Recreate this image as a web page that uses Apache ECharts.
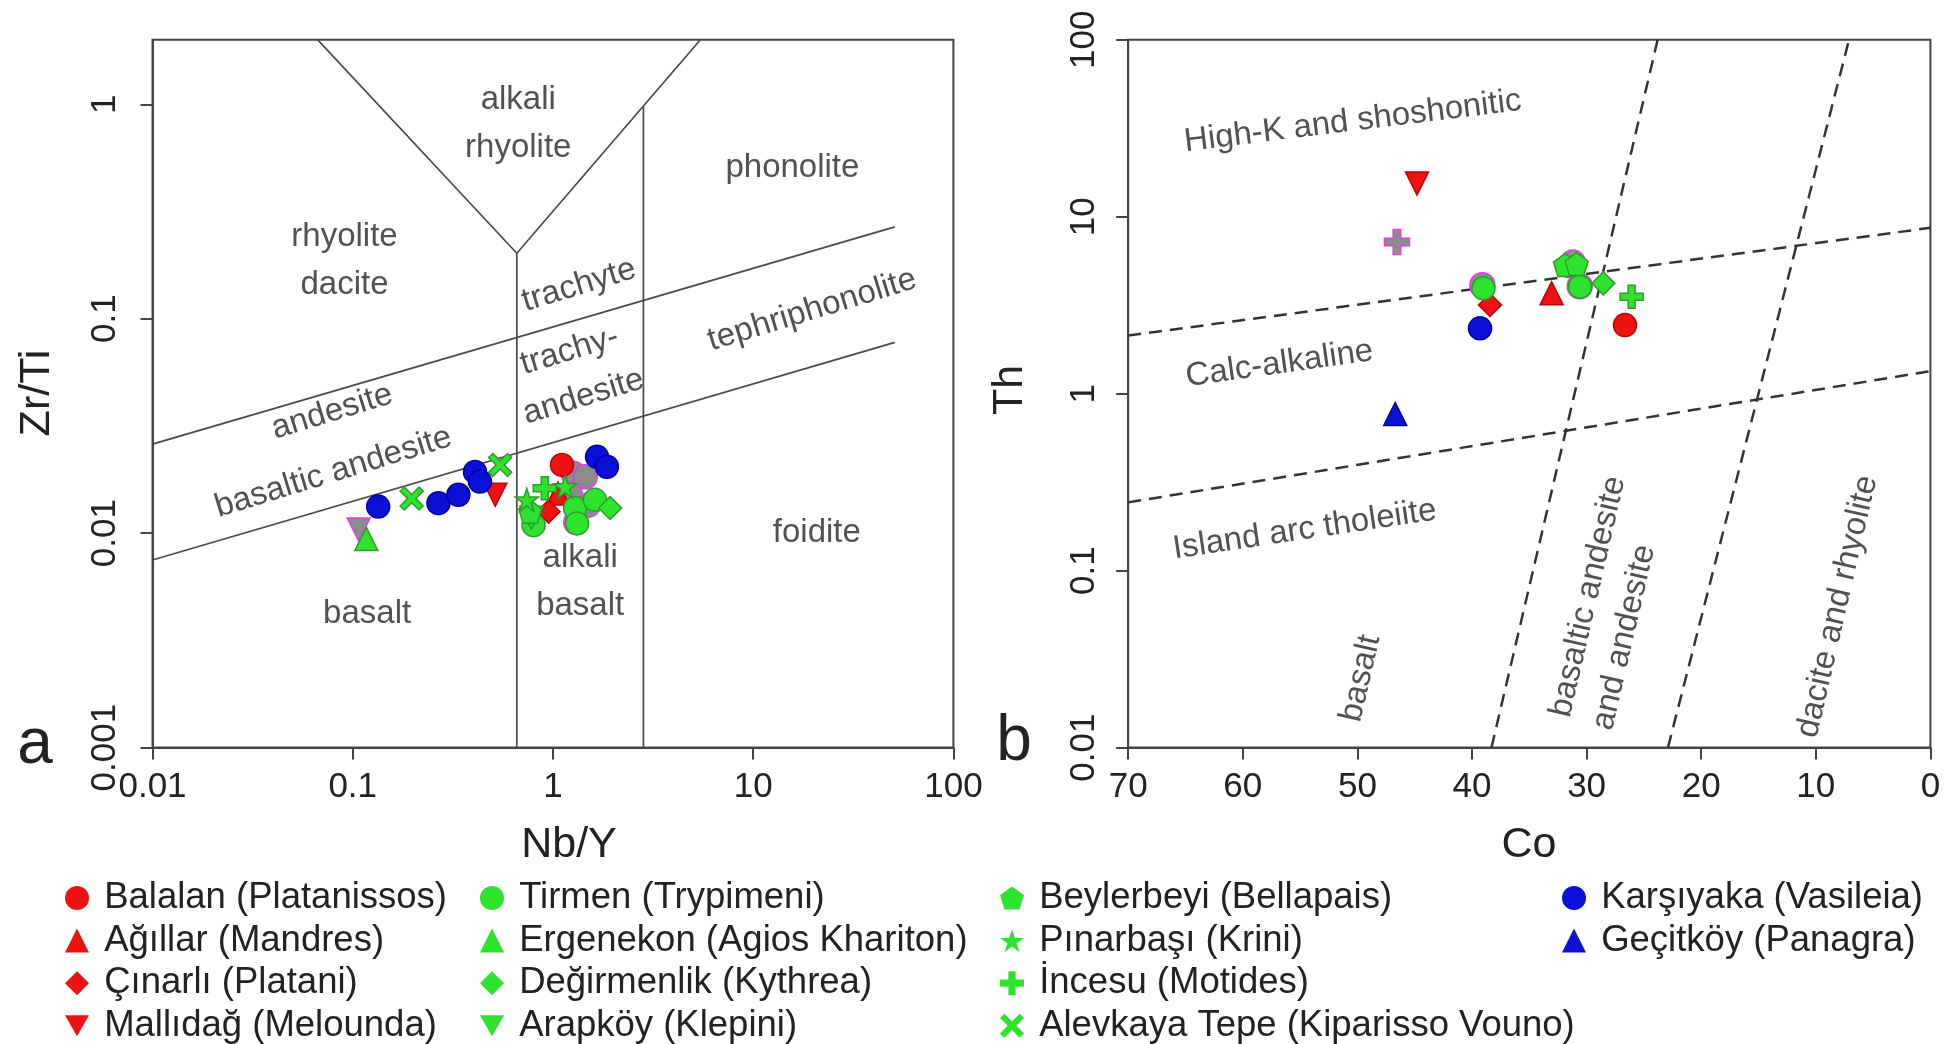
<!DOCTYPE html>
<html><head><meta charset="utf-8">
<script src="https://cdn.jsdelivr.net/npm/echarts@6/dist/echarts.min.js"></script>
<style>html,body{margin:0;padding:0;background:#fff}#c{width:1944px;height:1044px}</style>
</head><body><div id="c"></div>
<script>
// ---------- tick labels ----------
const nbyTicks = [0.01, 0.1, 1, 10, 100];
const zrtiTicks = [0.001, 0.01, 0.1, 1];
const coTicks = [70, 60, 50, 40, 30, 20, 10, 0];
const thTicks = [0.01, 0.1, 1, 10, 100];

// ---------- plot a data: [Nb/Y, Zr/Ti] ----------
const balalanA = [[1.11, 0.0208]];
const agillarA = [[1.06, 0.0153]];
const cinarliA = [[0.95, 0.0126]];
const mallidagA = [[0.515, 0.0151]];
const tirmenA = [[1.29, 0.0131], [1.62, 0.0143], [1.32, 0.0111], [0.80, 0.0109]];
const ergenekonA = [[0.117, 0.0094]];
const degirmenlikA = [[1.93, 0.0131]];
const arapkoyA = [[0.78, 0.0118]];
const beylerbeyiA = [[0.77, 0.0126]];
const pinarbasiA = [[0.74, 0.0143], [1.15, 0.0165]];
const incesuA = [[0.91, 0.0162]];
const alevkayaA = [[0.197, 0.0145], [0.545, 0.0208]];
const karsiyakaA = [[0.134, 0.0133], [0.268, 0.0138], [0.337, 0.0151], [0.408, 0.0193], [0.432, 0.0174], [1.66, 0.0227], [1.86, 0.0204]];
const prevCircleA = [[1.26, 0.0190], [1.45, 0.0183], [1.22, 0.0152], [1.50, 0.0135], [1.30, 0.0112]];
const prevDownA = [[0.107, 0.0104]];

// ---------- plot b data: [Co, Th] ----------
const balalanB = [[26.65, 2.44]];
const agillarB = [[33.05, 3.69]];
const cinarliB = [[38.43, 3.17]];
const mallidagB = [[44.8, 15.4]];
const tirmenB = [[39.0, 3.94], [30.58, 4.02]];
const degirmenlikB = [[28.54, 4.2]];
const beylerbeyiB = [[31.88, 5.34], [30.87, 5.4]];
const incesuB = [[26.07, 3.53]];
const karsiyakaB = [[39.3, 2.34]];
const gecitkoyB = [[46.7, 0.767]];
const prevCircleB = [[39.1, 4.1], [30.6, 4.05], [31.2, 5.5]];
const prevPlusB = [[46.55, 7.2]];

// ---------- field boundaries ----------
const bndUpperA = [[0.01, 0.026], [51, 0.268]];
const bndLowerA = [[0.01, 0.0075], [51, 0.0776]];
const bndVA = [[0.0667, 2], [0.66, 0.202], [5.45, 2]];
const bndVert1A = [[0.66, 0.202], [0.66, 0.001]];
const bndVert2A = [[2.83, 0.98], [2.83, 0.001]];
const bndThUpperB = [[70, 2.13], [0, 8.65]];
const bndThLowerB = [[70, 0.243], [0, 1.34]];
const bndCo1B = [[38.3, 0.01], [23.8, 100]];
const bndCo2B = [[22.9, 0.01], [7.1, 100]];

// ---------- field names ----------
const fieldTextsA = ['alkali\nrhyolite', 'phonolite', 'rhyolite\ndacite', 'trachyte', 'tephriphonolite', 'trachy-\nandesite', 'andesite', 'basaltic andesite', 'foidite', 'alkali\nbasalt', 'basalt'];
const fieldAnchorsA = [[0.671, 0.813], [15.7, 0.507], [0.091, 0.186], [1.35, 0.143], [19.7, 0.1096], [1.312, 0.0553], [0.079, 0.0368], [0.080, 0.0192], [20.8, 0.010], [1.368, 0.00595], [0.118, 0.00421]];
const fieldRotA = [0, 0, 0, 17, 17, 17, 17, 17, 0, 0, 0];
const fieldTextsB = ['High-K and shoshonitic', 'Calc-alkaline', 'Island arc tholeiite', 'basalt', 'basaltic andesite', 'and andesite', 'dacite and rhyolite'];
const fieldAnchorsB = [[50.4, 34.5], [56.8, 1.47], [54.6, 0.170], [49.7, 0.0246], [29.86, 0.0713], [26.72, 0.0419], [8.1, 0.0627]];
const fieldRotB = [7, 8, 8.5, 77, 77, 77, 77];

// ---------- styles ----------
const FONT = '"Liberation Sans", Arial, sans-serif';
const RED = {fill: '#ee1111', border: '#c00000'};
const GREEN = {fill: '#2ee32e', border: '#2f9a2f'};
const BLUE = {fill: '#0a10d6', border: '#0000a0'};
const PREV = {fill: '#8c8c8c', border: '#e040e0'};
const SYM = {
  circle: 'circle', triangle: 'triangle', diamond: 'diamond',
  down: 'path://M0,0L100,0L50,87Z',
  pentagon: 'path://M50,0L100,36L81,95L19,95L0,36Z',
  star: 'path://M50,0L61.2,34.5L97.6,34.5L68.2,55.9L79.4,90.5L50,69.1L20.6,90.5L31.8,55.9L2.4,34.5L38.8,34.5Z',
  plus: 'path://M35,0H65V35H100V65H65V100H35V65H0V35H35Z',
  cross: 'path://M18,0L50,32L82,0L100,18L68,50L100,82L82,100L50,68L18,100L0,82L32,50L0,18Z'
};

const groups = [
  {name: 'Balalan (Platanissos)', sym: 'circle', pal: RED, a: balalanA, b: balalanB},
  {name: 'Ağıllar (Mandres)', sym: 'triangle', pal: RED, a: agillarA, b: agillarB},
  {name: 'Çınarlı (Platani)', sym: 'diamond', pal: RED, a: cinarliA, b: cinarliB},
  {name: 'Mallıdağ (Melounda)', sym: 'down', pal: RED, a: mallidagA, b: mallidagB},
  {name: 'Tirmen (Trypimeni)', sym: 'circle', pal: GREEN, a: tirmenA, b: tirmenB},
  {name: 'Ergenekon (Agios Khariton)', sym: 'triangle', pal: GREEN, a: ergenekonA, b: []},
  {name: 'Değirmenlik (Kythrea)', sym: 'diamond', pal: GREEN, a: degirmenlikA, b: degirmenlikB},
  {name: 'Arapköy (Klepini)', sym: 'down', pal: GREEN, a: arapkoyA, b: []},
  {name: 'Beylerbeyi (Bellapais)', sym: 'pentagon', pal: GREEN, a: beylerbeyiA, b: beylerbeyiB},
  {name: 'Pınarbaşı (Krini)', sym: 'star', pal: GREEN, a: pinarbasiA, b: []},
  {name: 'İncesu (Motides)', sym: 'plus', pal: GREEN, a: incesuA, b: incesuB},
  {name: 'Alevkaya Tepe (Kiparisso Vouno)', sym: 'cross', pal: GREEN, a: alevkayaA, b: []},
  {name: 'Karşıyaka (Vasileia)', sym: 'circle', pal: BLUE, a: karsiyakaA, b: karsiyakaB},
  {name: 'Geçitköy (Panagra)', sym: 'triangle', pal: BLUE, a: [], b: gecitkoyB}
];
const legendColumns = [
  ['Balalan (Platanissos)', 'Ağıllar (Mandres)', 'Çınarlı (Platani)', 'Mallıdağ (Melounda)'],
  ['Tirmen (Trypimeni)', 'Ergenekon (Agios Khariton)', 'Değirmenlik (Kythrea)', 'Arapköy (Klepini)'],
  ['Beylerbeyi (Bellapais)', 'Pınarbaşı (Krini)', 'İncesu (Motides)', 'Alevkaya Tepe (Kiparisso Vouno)'],
  ['Karşıyaka (Vasileia)', 'Geçitköy (Panagra)']
];
const legendLeft = [65, 480, 1000, 1562];

function tickFmt(ticks) {
  return function (v) {
    for (const t of ticks) {
      if (Math.abs(Math.log10(v / t)) < 1e-6 || v === t) return String(t);
    }
    return '';
  };
}
function linearFmt(ticks) {
  return function (v) { return ticks.indexOf(v) >= 0 ? String(v) : ''; };
}

const AXC = '#444';
function axisCommon() {
  return {
    axisLine: {show: true, onZero: false, lineStyle: {color: AXC, width: 2}},
    axisTick: {show: true, inside: false, length: 12, lineStyle: {color: AXC, width: 2}},
    splitLine: {show: false},
    axisLabel: {fontSize: 35, color: '#222', fontFamily: FONT}
  };
}

function scatter(name, sym, pal, data, idx, size) {
  return {
    type: 'scatter', name: name, xAxisIndex: idx, yAxisIndex: idx, data: data,
    symbol: SYM[sym], symbolSize: size || 23, z: 5,
    itemStyle: {color: pal.fill, borderColor: pal.border, borderWidth: 1.5, opacity: 1}
  };
}
function boundary(data, idx, dashed) {
  return {
    type: 'line', xAxisIndex: idx, yAxisIndex: idx, data: data, symbol: 'none', silent: true, z: 2,
    lineStyle: dashed ? {color: '#333', width: 2.5, type: [13, 8]} : {color: '#4a4a4a', width: 1.7}
  };
}
function fieldLabels(texts, anchors, rots, idx, lh) {
  return {
    type: 'scatter', xAxisIndex: idx, yAxisIndex: idx, silent: true, symbolSize: 1, z: 3,
    itemStyle: {color: 'rgba(0,0,0,0)'},
    data: texts.map((t, i) => ({value: anchors[i], name: t, label: {rotate: rots[i]}})),
    label: {show: true, position: 'inside', formatter: '{b}', fontSize: 33, fontFamily: FONT,
      color: '#262626', lineHeight: lh, align: 'center', verticalAlign: 'middle'}
  };
}

const series = [];
series.push(boundary(bndUpperA, 0), boundary(bndLowerA, 0), boundary(bndVA, 0), boundary(bndVert1A, 0), boundary(bndVert2A, 0));
series.push(boundary(bndThUpperB, 1, true), boundary(bndThLowerB, 1, true), boundary(bndCo1B, 1, true), boundary(bndCo2B, 1, true));
series.push(fieldLabels(fieldTextsA, fieldAnchorsA, fieldRotA, 0, 48));
series.push(fieldLabels(fieldTextsB, fieldAnchorsB, fieldRotB, 1, 36));
series.push(scatter('prev circle a', 'circle', PREV, prevCircleA, 0, 24));
series.push(scatter('prev down a', 'down', PREV, prevDownA, 0, 23));
series.push(scatter('prev circle b', 'circle', PREV, prevCircleB, 1, 25));
series.push(scatter('prev plus b', 'plus', PREV, prevPlusB, 1, 25));
groups.forEach(g => {
  if (g.a.length) series.push(scatter(g.name, g.sym, g.pal, g.a, 0));
  if (g.b.length) series.push(scatter(g.name, g.sym, g.pal, g.b, 1));
});

const gridTop = 39.7, gridH = 707.9;
const option = {
  backgroundColor: '#fff',
  animation: false,
  textStyle: {fontFamily: FONT},
  grid: [
    {left: 152.5, top: gridTop, width: 800.9, height: gridH, show: true, borderColor: AXC, borderWidth: 2, containLabel: false},
    {left: 1128.2, top: gridTop, width: 802.2, height: gridH, show: true, borderColor: AXC, borderWidth: 2, containLabel: false}
  ],
  xAxis: [
    Object.assign(axisCommon(), {gridIndex: 0, type: 'log', logBase: 10, min: 0.01, max: 100}),
    Object.assign(axisCommon(), {gridIndex: 1, type: 'value', min: 0, max: 70, interval: 10, inverse: true})
  ],
  yAxis: [
    Object.assign(axisCommon(), {gridIndex: 0, type: 'log', logBase: 10, min: 0.001, max: 2}),
    Object.assign(axisCommon(), {gridIndex: 1, type: 'log', logBase: 10, min: 0.01, max: 100})
  ],
  legend: legendColumns.map((names, i) => ({
    data: names, orient: 'vertical', left: legendLeft[i], top: 879.5, height: 200, padding: 0,
    itemWidth: 24, itemHeight: 24, itemGap: 5.6, selectedMode: false,
    formatter: ' {name}',
    itemStyle: {borderWidth: 0},
    textStyle: {fontSize: 36.5, lineHeight: 35, color: '#222', fontFamily: FONT}
  })),
  graphic: [
    {type: 'text', x: 37, y: 393, rotation: Math.PI / 2, style: {text: 'Zr/Ti', font: '43px ' + FONT, fill: '#222', align: 'center', verticalAlign: 'middle', textAlign: 'center', textVerticalAlign: 'middle'}},
    {type: 'text', x: 569, y: 845, style: {text: 'Nb/Y', font: '43px ' + FONT, fill: '#222', align: 'center', verticalAlign: 'middle', textAlign: 'center', textVerticalAlign: 'middle'}},
    {type: 'text', x: 1010, y: 390, rotation: Math.PI / 2, style: {text: 'Th', font: '43px ' + FONT, fill: '#222', align: 'center', verticalAlign: 'middle', textAlign: 'center', textVerticalAlign: 'middle'}},
    {type: 'text', x: 1529, y: 845, style: {text: 'Co', font: '43px ' + FONT, fill: '#222', align: 'center', verticalAlign: 'middle', textAlign: 'center', textVerticalAlign: 'middle'}},
    {type: 'text', x: 35, y: 745, style: {text: 'a', font: '64px ' + FONT, fill: '#222', align: 'center', verticalAlign: 'middle', textAlign: 'center', textVerticalAlign: 'middle'}},
    {type: 'text', x: 1014, y: 742, style: {text: 'b', font: '64px ' + FONT, fill: '#222', align: 'center', verticalAlign: 'middle', textAlign: 'center', textVerticalAlign: 'middle'}}
  ],
  series: series
};
option.xAxis[0].axisLabel.formatter = tickFmt(nbyTicks);
option.xAxis[0].axisLabel.margin = 22;
option.xAxis[1].axisLabel.formatter = linearFmt(coTicks);
option.xAxis[1].axisLabel.margin = 22;
option.yAxis[0].axisLabel.formatter = tickFmt(zrtiTicks);
option.yAxis[0].axisLabel.rotate = 90;
option.yAxis[0].axisLabel.margin = 30;
option.yAxis[0].axisLabel.customValues = zrtiTicks;
option.yAxis[0].axisTick.customValues = zrtiTicks;
option.yAxis[1].axisLabel.formatter = tickFmt(thTicks);
option.yAxis[1].axisLabel.rotate = 90;
option.yAxis[1].axisLabel.margin = 26;

const chart = echarts.init(document.getElementById('c'), null, {renderer: 'canvas'});
chart.setOption(option);
</script>
</body></html>
